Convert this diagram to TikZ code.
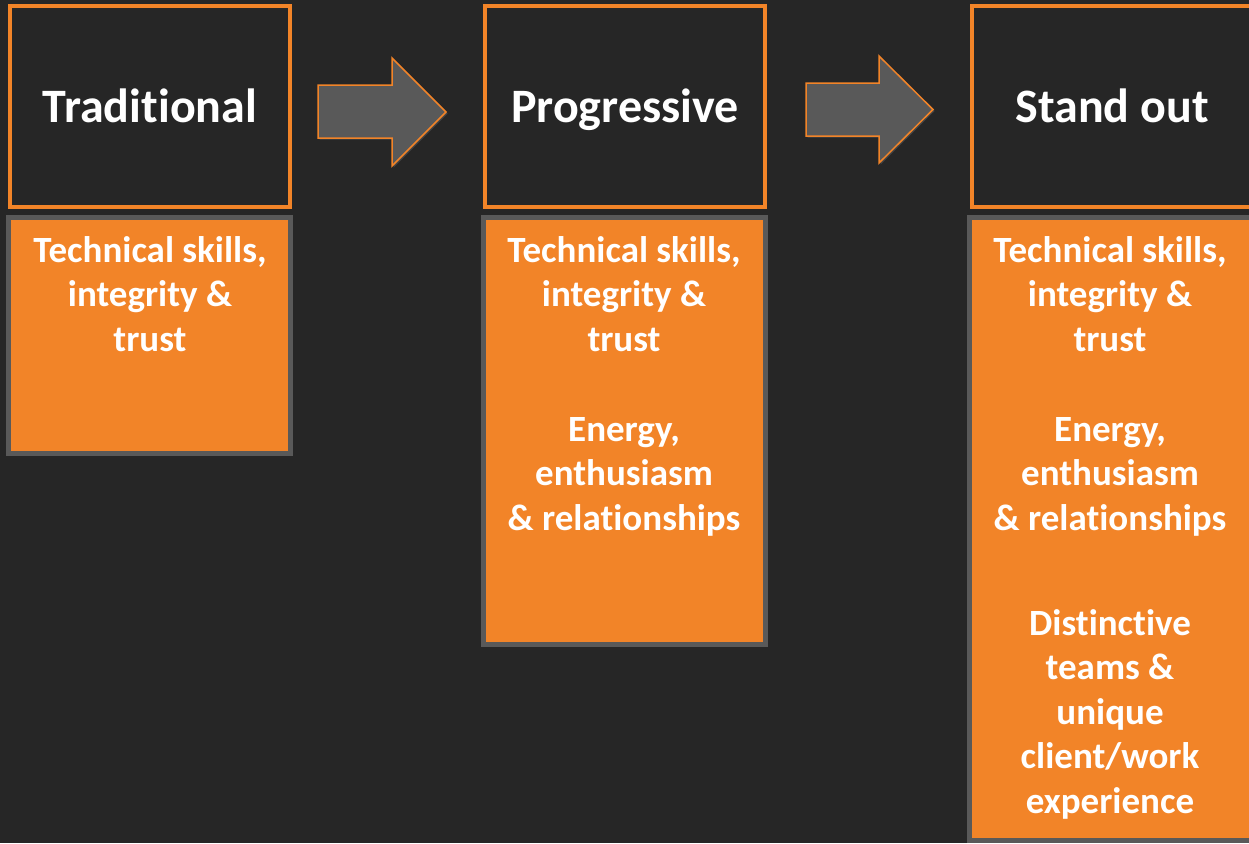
\documentclass[tikz,border=0pt]{standalone}
\usepackage{fontspec}
\setmainfont{Carlito}[Ligatures=NoCommon]
\usetikzlibrary{shadows}
\definecolor{bg}{HTML}{262626}
\definecolor{org}{HTML}{F28428}
\definecolor{gry}{HTML}{595959}
\tikzset{
  topbox/.style={draw=org, line width=4pt, fill=bg, minimum width=280pt, minimum height=200pt,
    inner sep=0pt, text=white, font=\fontsize{48}{58}\selectfont\bfseries, text height=31pt, text depth=0pt},
  lowbox/.style={draw=gry, line width=5pt, fill=org, minimum width=282pt, inner sep=0pt},
  body/.style={anchor=base, inner sep=0pt, text=white, font=\fontsize{37}{45}\selectfont\bfseries},
  blockarrow/.style={draw=org, line width=1.5pt, fill=gry, line join=miter,
    drop shadow={opacity=0.35, shadow xshift=1.5pt, shadow yshift=-1.5pt}}
}
\begin{document}
\begin{tikzpicture}[x=1pt,y=-1pt]
\useasboundingbox[fill=bg] (0,0) rectangle (1249,843);
% top boxes
\node[topbox] (t1) at (150,106.5) {Traditional};
\node[topbox] (t2) at (625,106.5) {Progressive};
\node[topbox] (t3) at (1112,106.5) {Stand out};
% lower boxes
\node[lowbox, minimum height=236pt] (b1) at (149.5,335.5) {};
\node[lowbox, minimum height=427pt] (b2) at (624.5,431) {};
\node[lowbox, minimum height=623pt] (b3) at (1110.5,529) {};
% arrows
\path[blockarrow] (318,85) coordinate (a1s) -- (392,85) -- (392,58) -- (446,112) coordinate (a1t) -- (392,166) -- (392,138) -- (318,138) -- cycle;
\path[blockarrow] (806,83) coordinate (a2s) -- (879,83) -- (879,56) -- (933,109.5) coordinate (a2t) -- (879,163) -- (879,136) -- (806,136) -- cycle;
% box 1 text
\node[body] (b1a) at (150,262) {Technical skills,};
\node[body] (b1b) at (150,306.6) {integrity \&};
\node[body] (b1c) at (150,351.2) {trust};
% box 2 text
\node[body] (b2a) at (624,262) {Technical skills,};
\node[body] (b2b) at (624,306.6) {integrity \&};
\node[body] (b2c) at (624,351.2) {trust};
\node[body] (b2d) at (624,441) {Energy,};
\node[body] (b2e) at (624,485.6) {enthusiasm};
\node[body] (b2f) at (624,530.2) {\& relationships};
% box 3 text
\node[body] (b3a) at (1110,262) {Technical skills,};
\node[body] (b3b) at (1110,306.6) {integrity \&};
\node[body] (b3c) at (1110,351.2) {trust};
\node[body] (b3d) at (1110,441) {Energy,};
\node[body] (b3e) at (1110,485.6) {enthusiasm};
\node[body] (b3f) at (1110,530.2) {\& relationships};
\node[body] (b3g) at (1110,635) {Distinctive};
\node[body] (b3h) at (1110,679.6) {teams \&};
\node[body] (b3i) at (1110,724.2) {unique};
\node[body] (b3j) at (1110,768.8) {client/work};
\node[body] (b3k) at (1110,813.4) {experience};
\end{tikzpicture}
\end{document}
